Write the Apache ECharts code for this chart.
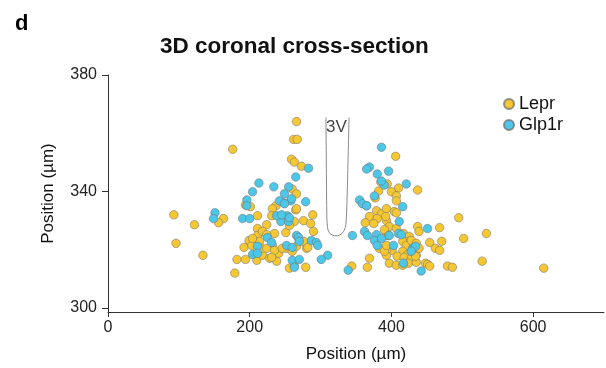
<!DOCTYPE html>
<html>
<head>
<meta charset="utf-8">
<script src="https://cdn.jsdelivr.net/npm/echarts@6/dist/echarts.min.js"></script>
<style>
html,body{margin:0;padding:0;background:#fff;}
#chart{width:606px;height:368px;}
</style>
</head>
<body>
<div id="chart"></div>
<script>
var xTicks = [0, 200, 400, 600];
var yTicks = [300, 340, 380];

var lepr = [
[176,354.5],[93,332.0],[122,328.6],[96,322.2],[134,318.1],[163,330.7],[156,329.3],[194,335.4],[201,334.8],
[211,327.3],[211,324.9],[199,323.2],[192,320.8],[203,321.5],[182,316.7],[194,316.7],[179,312.0],[211,331.7],
[214,322.9],[224,328.6],[218,326.3],[235,325.6],[237,335.1],[232,334.1],[251,325.9],[265,333.7],[263,329.7],
[276,330.0],[256,328.3],[210,316.4],[218,318.1],[228,317.1],[238,316.1],[241,318.8],[252,320.5],[260,319.5],
[232,321.5],[256,313.7],[263,314.4],[279,314.0],[280,320.5],[270,322.9],[276,322.9],[217,320.5],[266,364.0],
[262,357.9],[267,357.9],[259,351.1],[263,350.1],[273,348.7],[260,340.9],[266,339.2],[266,334.1],[231,331.7],
[286,329.0],[224,325.2],[204,323.9],[224,320.5],[235,319.8],[246,320.5],[266,321.2],[231,317.4],[290,326.3],
[289,332.0],[282,320.8],
[406,352.1],[385,343.3],[394,342.6],[382,340.2],[410,341.2],[400,339.9],[407,338.5],[437,340.5],[377,337.8],
[365,335.1],[407,336.8],[379,333.4],[386,332.4],[393,334.1],[404,333.1],[369,331.4],[380,330.7],[393,330.0],
[363,329.3],[375,329.0],[397,328.0],[407,327.3],[437,328.0],[439,326.3],[392,324.9],[417,325.6],[425,324.6],
[424,322.9],[401,319.8],[393,319.8],[416,322.9],[421,321.5],[416,319.5],[423,318.4],[408,317.8],[418,317.4],
[428,317.1],[435,318.1],[397,315.4],[407,314.7],[424,315.4],[435,315.7],[448,315.4],[366,314.0],[369,317.1],
[344,314.4],[393,318.1],[390,326.9],[396,324.9],[383,320.5],[390,319.5],[393,321.5],[428,323.2],[435,322.2],
[439,320.5],[434,317.8],[454,322.5],[462,320.5],[468,327.6],[471,322.9],[416,314.7],[451,315.0],[454,314.4],
[479,314.4],[495,331.0],[502,323.9],[534,325.6],[468,319.8],[528,316.1],[486,314.0],[615,313.7],[392,331.4],
[407,332.7]
];

var glp1r = [
[151,332.7],[149,330.7],[190,330.7],[200,330.7],[196,337.1],[204,339.9],[213,342.9],[211,321.2],[204,318.4],
[196,335.1],[248,336.1],[242,336.8],[253,331.7],[244,329.7],[255,329.7],[258,336.8],[279,336.5],[225,324.2],
[231,322.5],[211,318.8],[266,324.9],[269,324.2],[252,321.5],[260,320.8],[260,316.4],[270,316.7],[263,314.0],
[283,348.0],[265,345.0],[234,341.6],[255,341.6],[249,339.2],[259,337.5],[249,335.8],[238,331.7],[245,332.0],
[256,331.0],[287,323.2],[294,322.5],[296,321.5],[310,318.1],[301,316.7],[270,322.9],
[386,355.2],[369,348.4],[365,347.7],[396,347.0],[380,346.0],[390,342.2],[386,343.6],[421,342.6],[376,338.5],
[355,337.1],[359,335.8],[365,335.1],[416,334.8],[411,329.7],[362,326.3],[366,324.9],[379,325.2],[376,323.2],
[380,321.5],[386,323.9],[397,324.9],[403,321.5],[410,325.6],[414,325.2],[430,320.5],[434,321.2],[428,319.5],
[451,327.3],[417,315.4],[442,312.7],[345,324.9],[339,313.0]
];

var ventricle = [
[307.6,365.4],[308.3,345],[308.8,332],[309.8,327.6],[312.5,325.8],[317,325.0],[321.8,324.8],
[326.5,325.0],[331,325.8],[334.8,327.6],[336.6,332],[338.2,345],[340.2,365.4]
];
var ventricleLabel = [[322.5,362.0]];

var font = 'Liberation Sans, Arial, Helvetica, sans-serif';
var chart = echarts.init(document.getElementById('chart'), null, {renderer:'canvas'});
var pointStyle = function(c){ return {color:c, borderColor:'rgba(110,110,110,0.75)', borderWidth:0.7, opacity:1}; };

chart.setOption({
  animation:false,
  backgroundColor:'#fff',
  title:[
    {text:'d', left:10, top:8, textStyle:{fontFamily:font, fontWeight:'bold', fontSize:22, color:'#000'}},
    {text:'3D coronal cross-section', left:155, top:30, textStyle:{fontFamily:font, fontWeight:'bold', fontSize:22.5, color:'#111'}}
  ],
  legend:{
    orient:'vertical', left:498, top:90, itemWidth:10, itemHeight:10, itemGap:3,
    icon:'circle',
    textStyle:{fontFamily:font, fontSize:18, color:'#111'},
    data:['Lepr','Glp1r']
  },
  grid:{left:108, right:2, top:75, bottom:54, containLabel:false},
  xAxis:{
    type:'value', min:0, max:700,
    name:'Position (µm)', nameLocation:'middle', nameGap:34,
    nameTextStyle:{fontFamily:font, fontSize:17, color:'#111'},
    axisLine:{show:true, lineStyle:{color:'#333', width:1}},
    axisTick:{show:true, length:5, customValues:xTicks, lineStyle:{color:'#333'}},
    axisLabel:{customValues:xTicks, margin:8, fontFamily:font, fontSize:16, color:'#222'},
    splitLine:{show:false}
  },
  yAxis:{
    type:'value', min:298.64, max:380,
    name:'Position (µm)', nameLocation:'middle', nameGap:51,
    nameTextStyle:{fontFamily:font, fontSize:17, color:'#111'},
    axisLine:{show:true, lineStyle:{color:'#333', width:1}},
    axisTick:{show:true, length:6, customValues:yTicks, lineStyle:{color:'#333'}},
    axisLabel:{customValues:yTicks, margin:11, fontFamily:font, fontSize:16, color:'#222'},
    splitLine:{show:false}
  },
  series:[
    {name:'3V', type:'line', data:ventricle, smooth:0.3, symbol:'none', silent:true,
     lineStyle:{color:'#8a8a8a', width:1}, z:1},
    {name:'3Vlabel', type:'scatter', data:ventricleLabel, symbolSize:0, silent:true,
     label:{show:true, formatter:'3V', position:'inside', fontFamily:font, fontSize:17, color:'#111'}, z:1},
    {name:'Lepr', type:'scatter', data:lepr, symbol:'circle', symbolSize:8.5, itemStyle:pointStyle('#F5C733'), z:3},
    {name:'Glp1r', type:'scatter', data:glp1r, symbol:'circle', symbolSize:8.5, itemStyle:pointStyle('#4CC7E7'), z:3}
  ]
});
</script>
</body>
</html>
